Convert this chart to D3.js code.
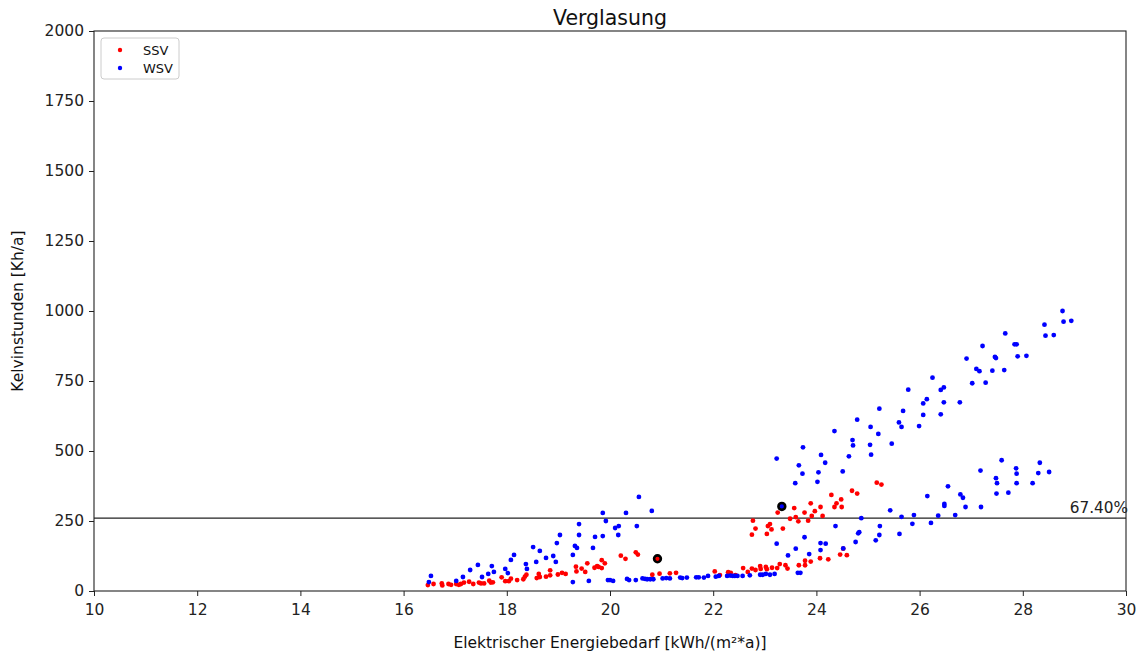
<!DOCTYPE html>
<html><head><meta charset="utf-8">
<script src="https://cdn.jsdelivr.net/npm/d3@7"></script>
<style>body{margin:0;background:#fff}svg{font-family:"DejaVu Sans",sans-serif}</style>
</head><body><svg id="c" width="1139" height="654"></svg>
<script>
const title = "Verglasung";
const xLabel = "Elektrischer Energiebedarf [kWh/(m²*a)]";
const yLabel = "Kelvinstunden [Kh/a]";
const xTicks = [10,12,14,16,18,20,22,24,26,28,30];
const yTicks = [0,250,500,750,1000,1250,1500,1750,2000];
const seriesNames = ["SSV","WSV"];
const seriesColors = ["#ff0000","#0000ff"];
const thresholdValue = 260;
const thresholdLabel = "67.40%";

const ssv = [[16.47,21],[16.58,25],[16.74,27],[16.75,20],[16.87,25],[16.92,22],[17.02,25],[17.07,22],[17.11,25],[17.17,30],[17.27,33],[17.35,25],[17.46,30],[17.50,27],[17.56,27],[17.66,37],[17.69,30],[17.73,31],[17.90,49],[17.97,35],[18.04,35],[18.08,44],[18.20,39],[18.32,42],[18.35,51],[18.38,58],[18.58,46],[18.62,61],[18.64,50],[18.76,51],[18.84,56],[18.84,74],[18.99,59],[19.07,65],[19.14,61],[19.34,87],[19.35,70],[19.45,80],[19.52,68],[19.56,99],[19.70,83],[19.75,89],[19.78,86],[19.84,82],[19.84,110],[19.90,99],[20.21,126],[20.30,115],[20.50,138],[20.54,130],[20.82,58],[20.96,62],
[21.16,63],[21.28,65],[22.03,70],[22.13,57],[22.29,67],[22.34,65],[22.43,57],[22.58,82],[22.67,68],[22.75,80],[22.82,75],[22.91,89],[22.92,79],[23.02,86],[23.04,78],[23.14,83],[23.24,82],[23.29,96],[23.40,92],[23.44,80],[23.66,92],[23.78,108],[23.78,92],[23.89,105],[24.07,117],[24.23,113],[24.52,151],[24.46,130],[24.59,128],
[22.77,251],[22.82,223],[22.75,201],[23.06,232],[23.10,239],[23.13,220],[23.04,204],[23.35,223],[23.25,280],[23.49,258],[23.57,296],[23.60,264],[23.65,249],[23.77,280],[23.84,251],[23.89,313],[23.91,268],[23.97,285],[24.08,300],[24.12,268],[24.29,343],[24.35,300],[24.39,313],[24.48,327],[24.49,300],[24.69,358],[24.79,348],[25.17,387],[25.26,380]];

const wsv = [[16.49,32],[16.53,54],[17.02,36],[17.15,50],[17.29,75],[17.44,93],[17.52,50],[17.64,61],[17.71,89],[17.75,68],[17.97,79],[18.02,64],[18.08,111],[18.14,129],[18.37,96],[18.39,79],[18.51,157],[18.57,104],[18.64,143],[18.76,118],[18.90,125],[18.95,104],[18.97,171],[19.03,200],[19.28,32],[19.28,129],[19.32,161],[19.36,154],[19.40,200],[19.40,239],[19.59,36],[19.67,154],[19.71,193],[19.86,196],[19.86,279],[19.92,250],[19.96,39],[20.00,39],[20.06,36],[20.10,225],[20.17,232],[20.16,200],[20.31,279],[20.33,43],[20.37,39],[20.50,39],[20.52,232],[20.56,336],[20.81,286],
[20.63,45],[20.68,43],[20.72,42],[20.78,42],[20.84,42],[21.02,45],[21.09,46],[21.16,45],[21.36,48],[21.40,46],[21.49,48],[21.67,49],[21.72,49],[21.82,48],[21.90,54],[22.05,51],[22.11,54],[22.27,54],[22.33,55],[22.38,54],[22.42,54],[22.47,54],[22.57,54],[22.71,56],[22.91,58],[22.96,58],[23.02,61],[23.10,58],[23.19,61],[23.64,65],[23.69,65],
[23.23,169],[23.45,127],[23.60,151],[23.77,192],[23.86,132],[24.08,171],[24.08,146],[24.18,169],[24.37,232],[24.52,152],[24.76,175],[24.81,206],[24.83,210],[24.87,260],[25.15,181],[25.22,200],[25.23,232],[25.43,288],[25.61,204],
[25.65,265],[25.86,240],[25.89,271],[26.15,339],[26.22,243],[26.36,269],[26.48,311],[26.48,304],[26.55,374],[26.69,271],[26.79,345],[26.84,333],[26.89,300],[27.18,430],[27.19,300],[27.48,403],[27.49,348],[27.50,385],[27.59,467],[27.72,351],[27.87,438],[27.88,419],[27.88,385],[28.19,385],[28.30,421],[28.33,458],[28.51,425],
[23.23,473],[23.74,513],[23.66,449],[23.73,419],[23.59,385],[24.09,486],[24.17,458],[24.04,424],[24.02,390],[24.51,427],[24.63,481],[24.70,539],[24.71,520],[25.04,522],[25.06,487],[25.46,526],
[24.35,571],[24.79,612],[25.05,586],[25.20,561],[25.22,651],[25.60,602],[25.65,586],[25.68,643],[25.78,719],[25.99,589],[26.07,629],[26.07,670],[26.14,685],[26.25,762],[26.41,718],[26.47,727],[26.47,674],[26.41,631],[26.78,674],[26.91,830],[27.02,742],[27.10,793],[27.16,785],[27.22,875],[27.28,744],[27.41,787],[27.46,836],[27.48,832],[27.64,789],[27.66,920],[27.84,881],[27.88,881],[27.90,838],[28.07,840],[28.42,951],[28.44,912],[28.60,914],[28.77,1000],[28.79,962],[28.94,965]];

// highlighted points: [x, y, series index]
const highlights = [[20.92,115,0],[23.33,302,1]];

const m = {l:94, r:1126, t:31, b:591};
const svg = d3.select("#c");
const x = d3.scaleLinear().domain([10,30]).range([m.l,m.r]);
const y = d3.scaleLinear().domain([0,2000]).range([m.b,m.t]);

const xa = svg.append("g").attr("transform",`translate(0,${m.b})`)
  .call(d3.axisBottom(x).tickValues(xTicks).tickSize(5).tickPadding(5).tickFormat(d3.format("d")));
const ya = svg.append("g").attr("transform",`translate(${m.l},0)`)
  .call(d3.axisLeft(y).tickValues(yTicks).tickSize(5).tickPadding(5).tickFormat(d3.format("d")));
[xa,ya].forEach(a=>{a.select(".domain").remove();a.selectAll("text").attr("font-size",15.5).attr("fill","#222").attr("font-family","DejaVu Sans");a.selectAll("line").attr("stroke","#222");});
xa.selectAll("text").attr("dy","0.9em");

// threshold line
svg.append("line").attr("x1",m.l).attr("x2",m.r).attr("y1",y(thresholdValue)).attr("y2",y(thresholdValue))
  .attr("stroke","#222").attr("stroke-width",1.2);
svg.append("text").attr("x",m.r+2).attr("y",y(thresholdValue)-5).attr("text-anchor","end")
  .attr("font-size",15.3).attr("fill","#222").text(thresholdLabel);

const data = [ssv, wsv];
data.forEach((arr,i)=>{
  svg.append("g").selectAll("circle").data(arr).join("circle")
    .attr("cx",d=>x(d[0])).attr("cy",d=>y(d[1])).attr("r",2.4).attr("fill",seriesColors[i]);
});
svg.append("g").selectAll("circle").data(highlights).join("circle")
  .attr("cx",d=>x(d[0])).attr("cy",d=>y(d[1])).attr("r",3.4)
  .attr("fill",d=>seriesColors[d[2]]).attr("stroke","#000").attr("stroke-width",2.6);

// frame
svg.append("rect").attr("x",m.l).attr("y",m.t).attr("width",m.r-m.l).attr("height",m.b-m.t)
  .attr("fill","none").attr("stroke","#222").attr("stroke-width",1.1);

// title & labels
svg.append("text").attr("x",(m.l+m.r)/2).attr("y",25).attr("text-anchor","middle").attr("font-size",20.5).attr("fill","#111").text(title);
svg.append("text").attr("x",(m.l+m.r)/2).attr("y",648).attr("text-anchor","middle").attr("font-size",15.5).attr("fill","#111").text(xLabel);
svg.append("text").attr("transform",`translate(23,${(m.t+m.b)/2}) rotate(-90)`).attr("text-anchor","middle").attr("font-size",15.5).attr("fill","#111").text(yLabel);

// legend
const lg = svg.append("g");
lg.append("rect").attr("x",101).attr("y",38).attr("width",78).attr("height",41).attr("rx",3)
  .attr("fill","#fff").attr("stroke","#ccc");
seriesNames.forEach((n,i)=>{
  lg.append("circle").attr("cx",120).attr("cy",50+i*18).attr("r",2.2).attr("fill",seriesColors[i]);
  lg.append("text").attr("x",143).attr("y",50+i*18).attr("dy","0.35em").attr("font-size",13).attr("fill","#111").text(n);
});
</script></body></html>
